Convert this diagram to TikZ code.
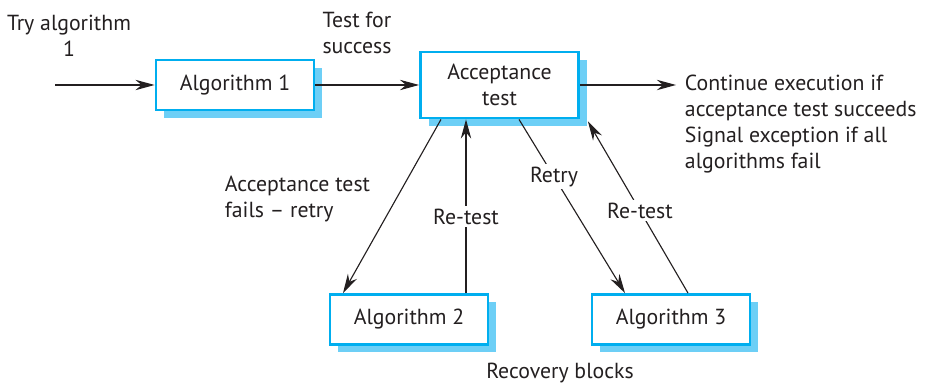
\documentclass[tikz,border=0pt]{standalone}
\usepackage{fontspec}
\setmainfont{PT Sans}
\usetikzlibrary{arrows.meta,positioning,calc,shadows}
\definecolor{boxcyan}{HTML}{00AEEF}
\definecolor{shadowblue}{HTML}{6DCFF6}
\definecolor{ink}{HTML}{231F20}

\begin{document}
\begin{tikzpicture}[
    every node/.style={font=\fontsize{15.5}{18.5}\selectfont, text=ink},
    block/.style={draw=boxcyan, line width=2pt, fill=white, minimum height=1.25cm,
                  minimum width=3.95cm, align=center,
                  drop shadow={shadow xshift=0.2cm, shadow yshift=-0.2cm,
                               fill=shadowblue, opacity=1}},
    arrow/.style={-{Stealth[length=4.8mm, width=2.6mm]}, line width=0.8pt, draw=ink},
    lbl/.style={fill=white, inner sep=2pt}
]
\useasboundingbox (0,0) rectangle (23.625,9.65);

% ---- blocks ----
\node[block] (alg1) at (5.875,7.525) {Algorithm 1};
\node[block, minimum height=1.65cm] (acc) at (12.4875,7.525) {Acceptance\\test};
\node[block] (alg2) at (10.225,1.6625) {Algorithm 2};
\node[block] (alg3) at (16.775,1.6625) {Algorithm 3};

% ---- texts ----
\node[align=center] (try) at (1.725,8.75) {Try algorithm\\1};
\node[align=center] (testfor) at (8.925,8.825) {Test for\\success};
\node[align=left, anchor=west] (fails) at (5.5,4.6875) {Acceptance test\\fails -- retry};
\node (recov) at (14.0,0.325) {Recovery blocks};

% ---- main line ----
\coordinate (in) at (1.375,7.525);
\coordinate (out) at (16.9,7.525);
\draw[arrow] (in) -- (alg1);
\draw[arrow] (alg1) -- (acc);
\draw[arrow] (acc) -- (out);
\node[align=left, anchor=west] (cont) at (17.0,6.55)
  {Continue execution if\\acceptance test succeeds\\Signal exception if all\\algorithms fail};

% ---- retry loops ----
\draw[arrow] ([xshift=-1.4625cm]acc.south) -- ([xshift=-1.65cm]alg2.north);
\draw[arrow] ([xshift=1.425cm]alg2.north) -- ([xshift=1.425cm]alg2.north |- acc.south)
  node[pos=0.44, lbl] {Re-test};
\draw[arrow] ([xshift=0.4875cm]acc.south) -- ([xshift=-1.15cm]alg3.north)
  node[pos=0.33, lbl] {Retry};
\draw[arrow] ([xshift=0.425cm]alg3.north) -- ([xshift=0.2cm,yshift=-0.05cm]acc.south east)
  node[pos=0.48, lbl] {Re-test};
\end{tikzpicture}
\end{document}
